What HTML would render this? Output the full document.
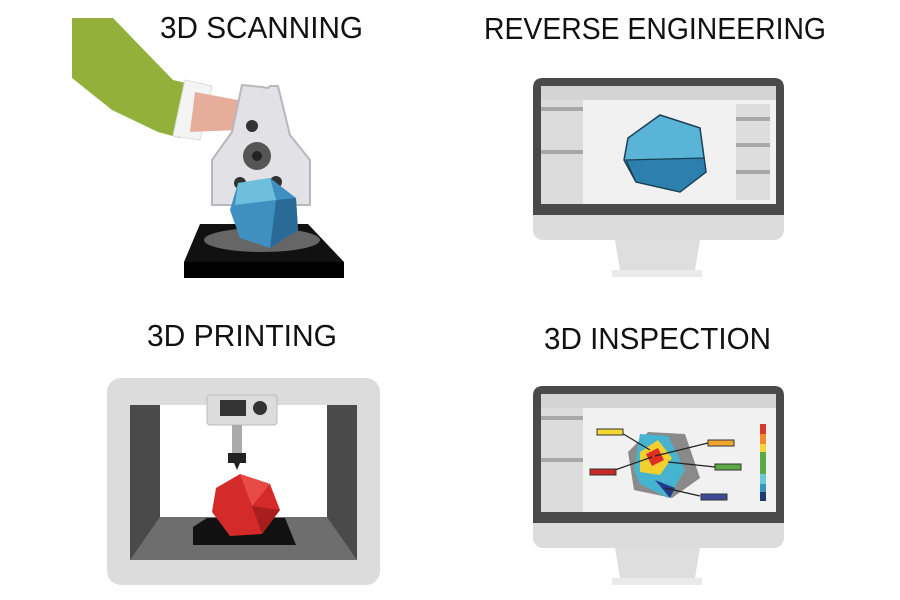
<!DOCTYPE html>
<html><head><meta charset="utf-8"><style>html,body{margin:0;padding:0;background:#fff}svg{display:block}</style></head><body>
<svg width="900" height="600" viewBox="0 0 900 600" xmlns="http://www.w3.org/2000/svg" font-family="Liberation Sans, sans-serif">
<g font-size="31" fill="#111">
<text x="160" y="38" textLength="203" lengthAdjust="spacingAndGlyphs">3D SCANNING</text>
<text x="484" y="39" textLength="342" lengthAdjust="spacingAndGlyphs">REVERSE ENGINEERING</text>
<text x="147" y="346" textLength="190" lengthAdjust="spacingAndGlyphs">3D PRINTING</text>
<text x="544" y="349" textLength="227" lengthAdjust="spacingAndGlyphs">3D INSPECTION</text>
</g>
<!-- scanning -->
<path d="M72 18 L113 18 L173 80 L190 84 L180 138 L158 132 L112 110 L72 78 Z" fill="#93b03a"/>
<path d="M185 80 L212 86 L200 140 L173 136 Z" fill="#f4f4f4" stroke="#ddd"/>
<path d="M195 92 L248 102 L238 130 L190 132 Z" fill="#e6ae9a"/>
<path d="M242 85 L262 87 L268 88 L270 86 L278 86 L290 135 L310 160 L310 205 L212 205 L212 160 L232 132 Z" fill="#e2e2e6" stroke="#b8b8bc" stroke-width="2"/>
<circle cx="252" cy="126" r="6" fill="#333"/>
<circle cx="257" cy="156" r="14" fill="#555"/><circle cx="257" cy="156" r="5" fill="#222"/>
<circle cx="240" cy="183" r="6" fill="#333"/><circle cx="276" cy="182" r="6" fill="#333"/>
<path d="M184 262 L200 224 L308 224 L344 262 Z" fill="#111"/>
<rect x="184" y="262" width="160" height="16" fill="#000"/>
<ellipse cx="262" cy="240" rx="58" ry="12" fill="#666"/>
<path d="M238 183 L270 178 L296 198 L298 230 L270 248 L240 238 L230 210 Z" fill="#3f8fc0"/>
<path d="M238 183 L270 178 L276 200 L235 205 Z" fill="#6dbfdc"/>
<path d="M276 200 L296 198 L298 230 L270 248 Z" fill="#2a6a96"/>
<!-- monitors -->
<g id="mon">
<rect x="533" y="78" width="251" height="162" rx="10" fill="#dcdcdc"/>
<path d="M543 78 H774 Q784 78 784 88 V215 H533 V88 Q533 78 543 78 Z" fill="#4a4a4a"/>
<rect x="541" y="86" width="235" height="118" fill="#e6e6e6"/>
<rect x="541" y="86" width="235" height="14" fill="#d4d4d4"/>
<rect x="541" y="100" width="42" height="104" fill="#dcdcdc"/>
<rect x="583" y="100" width="193" height="104" fill="#f1f1f1"/>
<path d="M615 240 H700 L695 270 H620 Z" fill="#dedede"/>
<rect x="612" y="270" width="90" height="7" fill="#eaeaea"/>
</g>
<rect x="541" y="107" width="42" height="4" fill="#a8a8a8"/><rect x="541" y="150" width="42" height="4" fill="#a8a8a8"/>
<rect x="736" y="104" width="34" height="96" fill="#ddd"/>
<rect x="736" y="117" width="34" height="4" fill="#a8a8a8"/><rect x="736" y="143" width="34" height="4" fill="#a8a8a8"/><rect x="736" y="170" width="34" height="4" fill="#a8a8a8"/>
<path d="M628 138 L660 115 L700 128 L706 172 L680 192 L636 182 L624 160 Z" fill="#5ab4d8" stroke="#1b3f55" stroke-width="1.5"/>
<path d="M636 182 L626 160 L704 158 L706 172 L680 192 Z" fill="#2d7fae" stroke="#1b3f55" stroke-width="1.2"/>
<g transform="translate(0,308)">
<use href="#mon"/>
</g>
<rect x="541" y="416" width="42" height="4" fill="#a8a8a8"/><rect x="541" y="458" width="42" height="4" fill="#a8a8a8"/>
<path d="M628 452 L648 432 L685 434 L700 478 L672 498 L634 490 Z" fill="#8a8a8a"/>
<path d="M640 434 L668 436 L685 470 L668 498 L640 484 L634 470 Z" fill="#47b4cf"/>
<path d="M640 452 L658 440 L672 458 L660 475 L640 472 Z" fill="#f2d02f"/>
<path d="M646 454 L658 448 L664 460 L652 466 Z" fill="#e02d25"/>
<path d="M655 480 L675 488 L670 498 Z" fill="#233a8a"/>
<g stroke="#222" stroke-width="1.2"><line x1="620" y1="432" x2="650" y2="450"/><line x1="708" y1="443" x2="655" y2="456"/><line x1="612" y1="471" x2="652" y2="457"/><line x1="715" y1="467" x2="668" y2="462"/><line x1="700" y1="496" x2="665" y2="488"/></g>
<rect x="597" y="429" width="26" height="6" fill="#f1d930" stroke="#333"/>
<rect x="708" y="440" width="26" height="6" fill="#f0a530" stroke="#333"/>
<rect x="590" y="469" width="26" height="6" fill="#c92a2a" stroke="#333"/>
<rect x="715" y="464" width="26" height="6" fill="#5aaa46" stroke="#333"/>
<rect x="701" y="494" width="26" height="6" fill="#3e4a95" stroke="#333"/>
<g><rect x="760" y="424" width="6" height="10" fill="#d63a2a"/><rect x="760" y="434" width="6" height="10" fill="#ee8a30"/><rect x="760" y="444" width="6" height="8" fill="#f3d535"/><rect x="760" y="452" width="6" height="22" fill="#5aaa46"/><rect x="760" y="474" width="6" height="10" fill="#6ec8dc"/><rect x="760" y="484" width="6" height="8" fill="#3795c4"/><rect x="760" y="492" width="6" height="9" fill="#1f3a6a"/></g>
<!-- printer -->
<rect x="107" y="378" width="273" height="207" rx="14" fill="#dcdcdc"/>
<rect x="130" y="405" width="227" height="155" fill="#4a4a4a"/>
<rect x="160" y="405" width="167" height="112" fill="#fff"/>
<path d="M160 517 H327 L357 560 H130 Z" fill="#6e6e6e"/>
<rect x="207" y="395" width="70" height="30" rx="3" fill="#dcdcdc" stroke="#bbb"/>
<rect x="220" y="400" width="26" height="16" fill="#333"/><circle cx="260" cy="408" r="7" fill="#333"/>
<rect x="232" y="425" width="10" height="28" fill="#aaa"/>
<rect x="228" y="453" width="18" height="10" fill="#222"/>
<path d="M234 463 L240 463 L237 470 Z" fill="#222"/>
<path d="M193 527 L207 518 L285 518 L296 545 L193 545 Z" fill="#111"/>
<path d="M216 488 L240 474 L270 484 L280 510 L262 534 L230 536 L212 512 Z" fill="#d42a2a"/>
<path d="M240 474 L270 484 L252 506 Z" fill="#e84a45"/>
<path d="M252 506 L280 510 L262 534 Z" fill="#a81e1e"/>
</svg>
</body></html>
